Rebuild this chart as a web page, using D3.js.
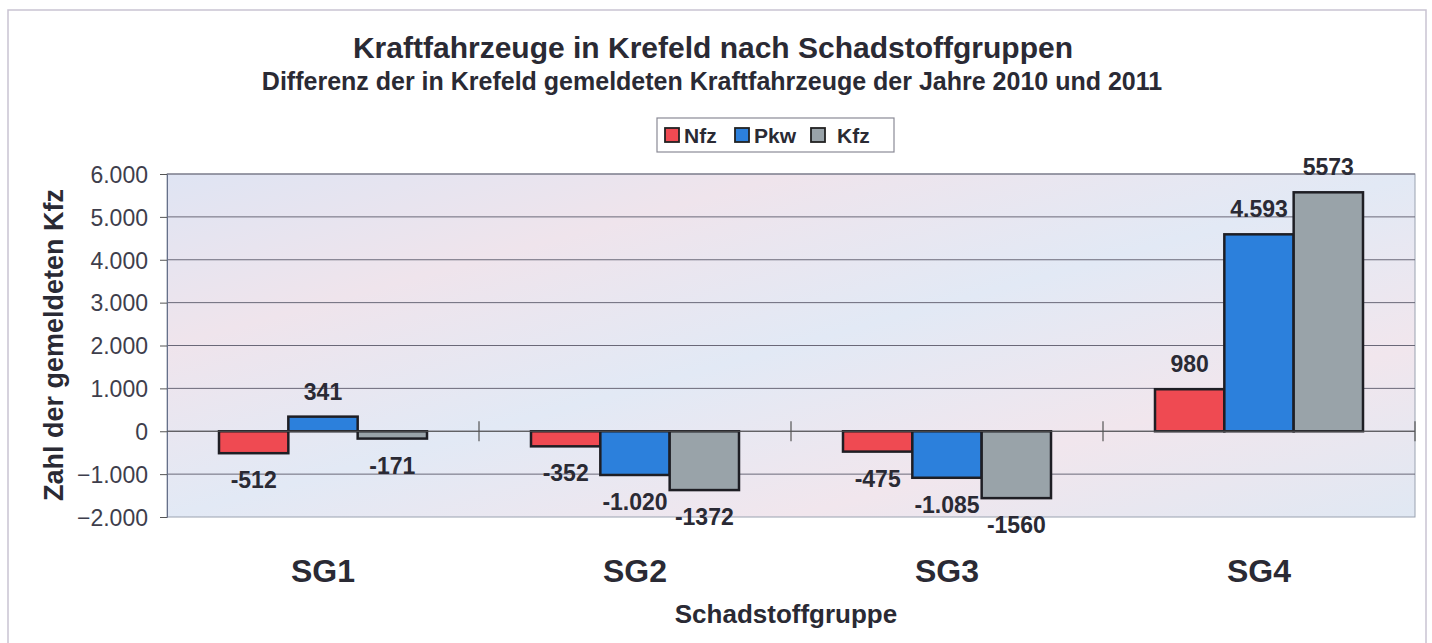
<html>
<head>
    <script src="https://d3js.org/d3.v7.min.js" charset="utf-8"></script>
    <style>
        body { margin: 0; background: #fff; }
        text { font-family: "Liberation Sans", Arial, sans-serif; }
    </style>
</head>

<body>
    <script type="text/javascript">
        // chart data
        const groups = ["SG1", "SG2", "SG3", "SG4"];
        const seriesNames = ["Nfz", "Pkw", "Kfz"];
        const nfzValues = [-512, -352, -475, 980];
        const pkwValues = [341, -1020, -1085, 4593];
        const kfzValues = [-171, -1372, -1560, 5573];
        const nfzLabels = ["-512", "-352", "-475", "980"];
        const pkwLabels = ["341", "-1.020", "-1.085", "4.593"];
        const kfzLabels = ["-171", "-1372", "-1560", "5573"];
        const yTicks = [-2000, -1000, 0, 1000, 2000, 3000, 4000, 5000, 6000];

        var width = 1432;
        var height = 643;

        var margin = {top: 174, right: 17, bottom: 126, left: 167};

        const colors = {Nfz: "#ef4a52", Pkw: "#2c80dc", Kfz: "#99a3a9"};
        const textColor = "#2a2a34";

        const svg = d3.select("body").append("svg")
            .attr("width", width)
            .attr("height", height);

        // pastel background for the plot area
        const defs = svg.append("defs");
        const grad = defs.append("linearGradient")
            .attr("id", "bg")
            .attr("x1", "0").attr("y1", "0").attr("x2", "1").attr("y2", "1");
        grad.append("stop").attr("offset", "0%").attr("stop-color", "#dfe4f3");
        grad.append("stop").attr("offset", "25%").attr("stop-color", "#efe4ec");
        grad.append("stop").attr("offset", "50%").attr("stop-color", "#e2e9f5");
        grad.append("stop").attr("offset", "75%").attr("stop-color", "#f1e6ed");
        grad.append("stop").attr("offset", "100%").attr("stop-color", "#e0e8f3");

        // outer frame
        svg.append("rect")
            .attr("x", 8).attr("y", 10)
            .attr("width", width - 14).attr("height", height - 8)
            .attr("fill", "none")
            .attr("stroke", "#c9c3d2")
            .attr("stroke-width", 1.5);

        const x0 = d3.scaleBand()
            .domain(groups)
            .range([margin.left, width - margin.right]);

        const x1 = d3.scaleBand()
            .domain(seriesNames)
            .range([0, x0.bandwidth()])
            .paddingOuter(0.75)
            .paddingInner(0);

        const y = d3.scaleLinear()
            .domain([-2000, 6000])
            .range([height - margin.bottom, margin.top]);

        // plot area
        svg.append("rect")
            .attr("x", margin.left).attr("y", margin.top)
            .attr("width", width - margin.left - margin.right)
            .attr("height", y(-2000) - y(6000))
            .attr("fill", "url(#bg)")
            .attr("stroke", "#9aa2b0")
            .attr("stroke-width", 1);

        // gridlines
        svg.append("g")
            .selectAll("line")
            .data(yTicks.filter(d => d !== -2000))
            .join("line")
                .attr("x1", margin.left)
                .attr("x2", width - margin.right)
                .attr("y1", d => y(d))
                .attr("y2", d => y(d))
                .attr("stroke", "#6a6878")
                .attr("stroke-width", 1);

        // y axis
        const yAxis = svg.append("g")
            .attr("transform", `translate(${margin.left},0)`)
            .call(d3.axisLeft(y)
                .tickValues(yTicks)
                .tickSize(7)
                .tickFormat(d => d3.format(",")(d).replace(/,/g, ".")));
        yAxis.select(".domain").attr("stroke", "#66708a");
        yAxis.selectAll(".tick line").attr("stroke", "#555");
        yAxis.selectAll(".tick text")
            .attr("font-size", 23)
            .attr("fill", "#3e3e4c")
            .attr("x", -19)
            .attr("dy", "0.36em");

        // bars
        const series = seriesNames.map((name, i) => ({
            name: name,
            values: [nfzValues, pkwValues, kfzValues][i],
            labels: [nfzLabels, pkwLabels, kfzLabels][i]
        }));

        const barData = [];
        series.forEach(s => {
            groups.forEach((g, j) => {
                barData.push({group: g, name: s.name, value: s.values[j], label: s.labels[j]});
            });
        });

        svg.append("g")
            .selectAll("rect")
            .data(barData)
            .join("rect")
                .attr("x", d => x0(d.group) + x1(d.name))
                .attr("width", x1.bandwidth())
                .attr("y", d => y(Math.max(0, d.value)))
                .attr("height", d => Math.abs(y(d.value) - y(0)))
                .attr("fill", d => colors[d.name])
                .attr("stroke", "#1e1e24")
                .attr("stroke-width", 2.5);

        // zero axis with category separators
        svg.append("line")
            .attr("x1", margin.left).attr("x2", width - margin.right)
            .attr("y1", y(0)).attr("y2", y(0))
            .attr("stroke", "#555")
            .attr("stroke-width", 1);
        svg.append("g")
            .selectAll("line")
            .data(groups.slice(1).concat(["end"]))
            .join("line")
                .attr("x1", d => d === "end" ? width - margin.right : x0(d))
                .attr("x2", d => d === "end" ? width - margin.right : x0(d))
                .attr("y1", y(0) - 10)
                .attr("y2", y(0) + 10)
                .attr("stroke", "#555")
                .attr("stroke-width", 1.2);

        // value labels
        svg.append("g")
            .selectAll("text")
            .data(barData)
            .join("text")
                .attr("x", d => x0(d.group) + x1(d.name) + x1.bandwidth() / 2)
                .attr("y", d => d.value >= 0 ? y(d.value) - 17 : y(d.value) + 35)
                .attr("text-anchor", "middle")
                .attr("font-size", 23)
                .attr("font-weight", "bold")
                .attr("fill", textColor)
                .text(d => d.label);

        // category labels
        svg.append("g")
            .selectAll("text")
            .data(groups)
            .join("text")
                .attr("x", d => x0(d) + x0.bandwidth() / 2)
                .attr("y", 582)
                .attr("text-anchor", "middle")
                .attr("font-size", 32)
                .attr("font-weight", "bold")
                .attr("fill", textColor)
                .text(d => d);

        // axis titles
        svg.append("text")
            .attr("x", 786)
            .attr("y", 623)
            .attr("text-anchor", "middle")
            .attr("font-size", 26)
            .attr("font-weight", "bold")
            .attr("fill", textColor)
            .text("Schadstoffgruppe");

        svg.append("text")
            .attr("transform", "translate(63,345) rotate(-90)")
            .attr("text-anchor", "middle")
            .attr("font-size", 27)
            .attr("font-weight", "bold")
            .attr("fill", textColor)
            .text("Zahl der gemeldeten Kfz");

        // titles
        svg.append("text")
            .attr("x", 713).attr("y", 58)
            .attr("text-anchor", "middle")
            .attr("font-size", 30)
            .attr("font-weight", "bold")
            .attr("fill", textColor)
            .text("Kraftfahrzeuge in Krefeld nach Schadstoffgruppen");

        svg.append("text")
            .attr("x", 712).attr("y", 90)
            .attr("text-anchor", "middle")
            .attr("font-size", 25)
            .attr("font-weight", "bold")
            .attr("fill", textColor)
            .text("Differenz der in Krefeld gemeldeten Kraftfahrzeuge der Jahre 2010 und 2011");

        // legend
        const legend = svg.append("g").attr("transform", "translate(657,118)");
        legend.append("rect")
            .attr("width", 237).attr("height", 34)
            .attr("fill", "#fff")
            .attr("stroke", "#8a8a96")
            .attr("stroke-width", 1.2);
        const legendX = [8, 78, 154];
        const items = legend.selectAll("g")
            .data(seriesNames)
            .join("g")
                .attr("transform", (d, i) => `translate(${legendX[i]},0)`);
        items.append("rect")
            .attr("y", 10).attr("width", 14).attr("height", 14)
            .attr("fill", d => colors[d])
            .attr("stroke", "#222")
            .attr("stroke-width", 1.8);
        items.append("text")
            .attr("x", (d, i) => i === 2 ? 26 : 19)
            .attr("y", 25)
            .attr("font-size", 21)
            .attr("font-weight", "bold")
            .attr("fill", textColor)
            .text(d => d);
    </script>
</body>
</html>
